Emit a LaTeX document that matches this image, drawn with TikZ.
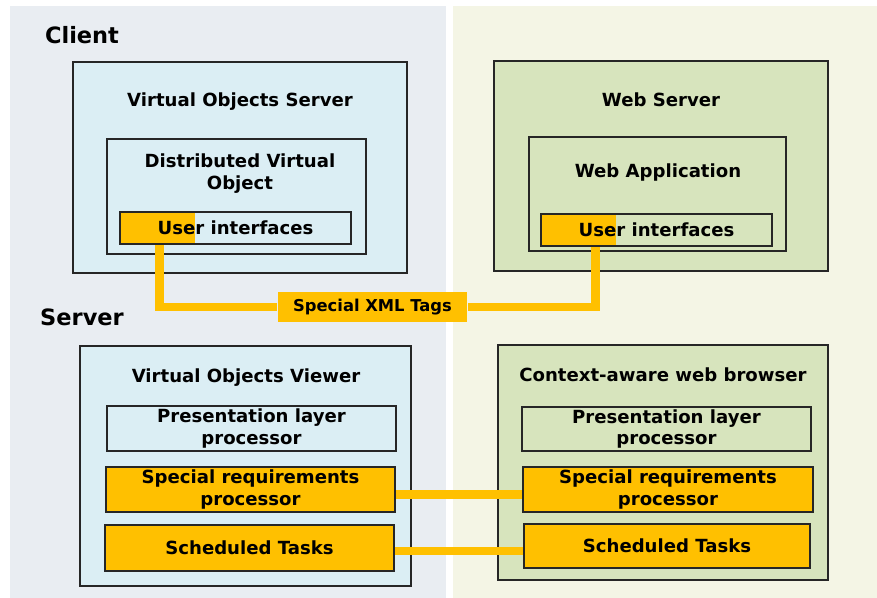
\documentclass[tikz,border=0pt]{standalone}
\usepackage{fontspec}
\setmainfont{DejaVu Sans}
\usepackage{xcolor}
\usepackage{tikz}
\usetikzlibrary{positioning}
\definecolor{clientbg}{HTML}{E9EDF2}
\definecolor{serverbg}{HTML}{F4F5E5}
\definecolor{voblue}{HTML}{DBEEF4}
\definecolor{webgreen}{HTML}{D7E4BD}
\definecolor{tagorange}{HTML}{FFC000}
\definecolor{boxline}{HTML}{262626}

\begin{document}
\begin{tikzpicture}[
  x=0.02cm, y=-0.02cm,
  font=\bfseries\fontsize{10.3}{12.5}\selectfont,
  box/.style={draw=boxline, line width=0.7pt, inner sep=0pt, align=center},
  vobox/.style={box, fill=voblue},
  webbox/.style={box, fill=webgreen},
  task/.style={box, fill=tagorange, minimum height=0.9cm},
  uibox/.style={box, minimum width=4.62cm, minimum height=0.64cm,
                path picture={\fill[tagorange] (path picture bounding box.north west)
                  rectangle ([xshift=1.5cm]path picture bounding box.south west);}},
  side/.style={font=\bfseries\fontsize{12.8}{15}\selectfont},
  link/.style={draw=tagorange, line width=5pt, shorten <=0.5pt, shorten >=0.5pt}]

\useasboundingbox (0,0) rectangle (877,598);
% ---------------- background panels ----------------
\fill[clientbg] (10,6) rectangle (446,598);
\fill[serverbg] (453,6) rectangle (877,598);
\node[side] (client) at (82,35) {Client};
\node[side] (server) at (82,317) {Server};

% ---------------- upper row ----------------
\node[vobox, minimum width=6.68cm, minimum height=4.22cm] (vos) at (240,167.5) {};
\node (vostitle) at (240,102) {Virtual Objects Server};
\node[vobox, minimum width=5.18cm, minimum height=2.30cm] (dvo) at (236.5,196.5) {};
\node[align=center] (dvotitle) at (240,174) {Distributed Virtual\\Object};
\node[uibox, fill=voblue] (uil) at (235.5,228) {User interfaces};

\node[webbox, minimum width=6.68cm, minimum height=4.20cm] (ws) at (661,166) {};
\node (wstitle) at (661,100) {Web Server};
\node[webbox, minimum width=5.14cm, minimum height=2.28cm] (wa) at (657.5,194) {};
\node (watitle) at (658,173) {Web Application};
\node[uibox, fill=webgreen] (uir) at (656.5,230) {User interfaces};

% special tags between the two user interfaces
\node[fill=tagorange, minimum width=3.78cm, minimum height=0.6cm, inner sep=0pt,
      font=\bfseries\fontsize{9.3}{11}\selectfont] (xml) at (372.5,307) {Special XML Tags};
\draw[link] ([xshift=0.8cm]uil.south west) |- (xml.west);
\draw[link] ([xshift=1.1cm]uir.south west) |- (xml.east);

% ---------------- lower row ----------------
\node[vobox, minimum width=6.62cm, minimum height=4.80cm] (vov) at (245.5,466) {};
\node (vovtitle) at (246,378) {Virtual Objects Viewer};
\node[vobox, minimum width=5.78cm, minimum height=0.9cm] (pll) at (251.5,428.5)
  {Presentation layer\\processor};
\node[task, minimum width=5.78cm] (srl) at (250.5,489.5)
  {Special requirements\\processor};
\node[task, minimum width=5.78cm, minimum height=0.92cm] (stl) at (249.5,548)
  {Scheduled Tasks};

\node[webbox, minimum width=6.60cm, minimum height=4.70cm] (cwb) at (663,462.5) {};
\node (cwbtitle) at (663,375) {Context-aware web browser};
\node[webbox, minimum width=5.78cm, minimum height=0.88cm] (plr) at (666.5,429)
  {Presentation layer\\processor};
\node[task, minimum width=5.80cm] (srr) at (668,489.5)
  {Special requirements\\processor};
\node[task, minimum width=5.72cm, minimum height=0.88cm] (str) at (667,546)
  {Scheduled Tasks};

\draw[link] ([yshift=-0.1cm]srl.east) -- ([yshift=-0.1cm]srl.east -| srr.west);
\draw[link] ([yshift=-0.06cm]stl.east) -- ([yshift=-0.06cm]stl.east -| str.west);
\end{tikzpicture}
\end{document}
